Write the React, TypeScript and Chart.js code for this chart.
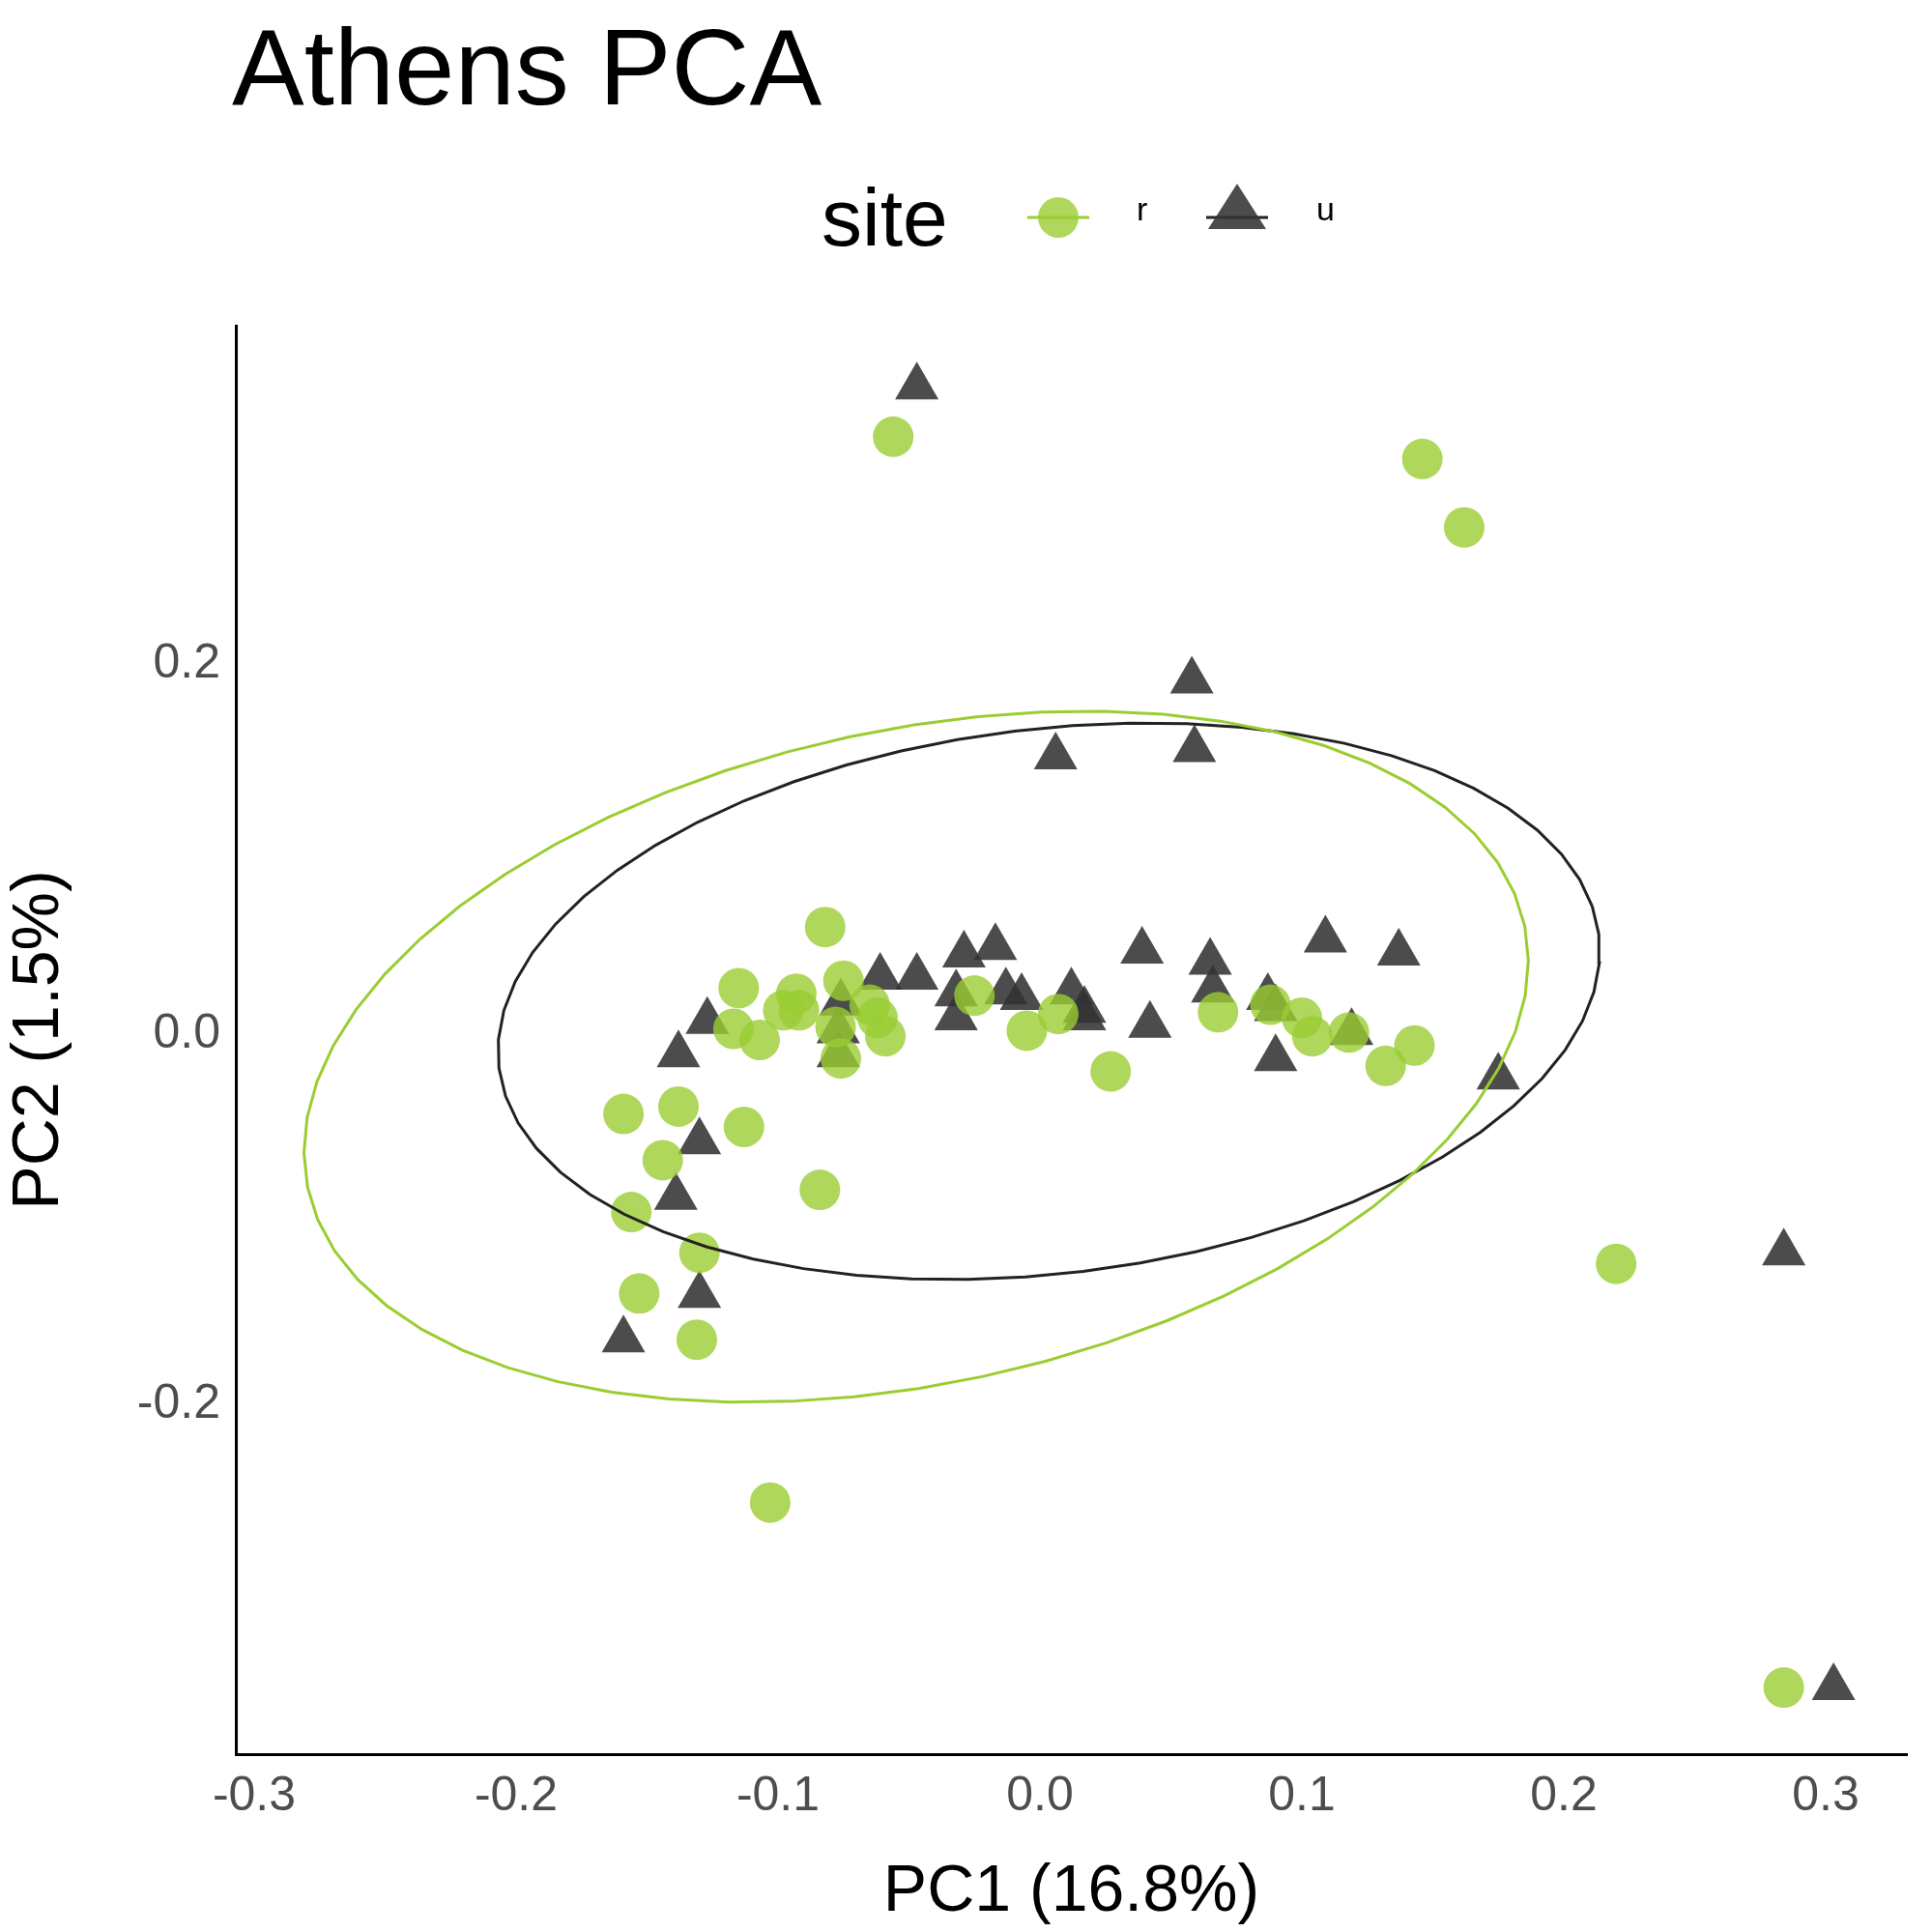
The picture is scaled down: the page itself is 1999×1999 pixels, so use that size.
import { useEffect, useRef } from "react";
import { Chart, registerables } from "chart.js";

Chart.register(...registerables);

// PC1, PC2 scores for rural (r) and urban (u) sites
const rX = [-0.056, 0.146, 0.162, -0.082, -0.115, -0.075, -0.093, -0.098, -0.092, -0.117, -0.107, -0.078, -0.065, -0.062, -0.059, -0.076, -0.025, -0.005, 0.007, 0.027, 0.068, 0.088, 0.1, 0.104, 0.118, 0.132, 0.143, -0.159, -0.138, -0.113, -0.144, -0.156, -0.084, -0.13, -0.153, -0.131, -0.103, 0.22, 0.284];
const rY = [0.323, 0.311, 0.274, 0.058, 0.025, 0.029, 0.022, 0.013, 0.013, 0.003, -0.003, 0.004, 0.016, 0.009, -0.001, -0.013, 0.021, 0.002, 0.011, -0.02, 0.012, 0.016, 0.009, -0.001, 0.001, -0.017, -0.006, -0.043, -0.039, -0.05, -0.068, -0.096, -0.084, -0.118, -0.14, -0.165, -0.253, -0.124, -0.353];
const uX = [-0.047, 0.058, 0.006, 0.059, -0.017, -0.029, -0.061, -0.047, -0.076, -0.032, -0.032, -0.013, -0.007, 0.012, 0.017, 0.017, 0.039, 0.042, 0.065, 0.066, 0.087, 0.09, 0.109, 0.137, 0.119, 0.09, 0.175, -0.127, -0.138, -0.13, -0.139, -0.13, -0.159, -0.077, -0.077, 0.284, 0.303];
const uY = [0.35, 0.191, 0.15, 0.154, 0.047, 0.043, 0.031, 0.031, 0.017, 0.022, 0.009, 0.023, 0.02, 0.023, 0.013, 0.009, 0.045, 0.005, 0.039, 0.024, 0.02, 0.014, 0.051, 0.044, 0.001, -0.013, -0.023, 0.007, -0.011, -0.058, -0.088, -0.141, -0.165, 0.002, -0.011, -0.118, -0.353];
const xTicks = [-0.3, -0.2, -0.1, 0.0, 0.1, 0.2, 0.3];
const yTicks = [-0.2, 0.0, 0.2];

// 95% ellipse from a t-weighted (cov.trob-like) covariance, as stat_ellipse does
function ellipse(xs: number[], ys: number[]) {
  const n = xs.length;
  const nu = 5;
  let w = xs.map(() => 1);
  let mx = 0, my = 0, sxx = 0, syy = 0, sxy = 0;
  for (let it = 0; it < 100; it++) {
    const sw = w.reduce((a, b) => a + b, 0);
    mx = xs.reduce((a, x, i) => a + w[i] * x, 0) / sw;
    my = ys.reduce((a, y, i) => a + w[i] * y, 0) / sw;
    sxx = 0; syy = 0; sxy = 0;
    for (let i = 0; i < n; i++) {
      const dx = xs[i] - mx, dy = ys[i] - my;
      sxx += w[i] * dx * dx; syy += w[i] * dy * dy; sxy += w[i] * dx * dy;
    }
    sxx /= n; syy /= n; sxy /= n;
    const det = sxx * syy - sxy * sxy;
    w = xs.map((x, i) => {
      const dx = x - mx, dy = ys[i] - my;
      const d2 = (syy * dx * dx - 2 * sxy * dx * dy + sxx * dy * dy) / det;
      return (nu + 2) / (nu + d2);
    });
  }
  const r = Math.sqrt(2 * 3.24);
  const a = sxx, c = syy, b = sxy;
  const tr = (a + c) / 2, dd = Math.sqrt(((a - c) / 2) ** 2 + b * b);
  const l1 = tr + dd, l2 = tr - dd;
  const th = Math.atan2(l1 - a, b);
  const pts = [];
  for (let k = 0; k <= 60; k++) {
    const t = (k / 60) * 2 * Math.PI;
    const u = r * Math.sqrt(l1) * Math.cos(t), v = r * Math.sqrt(l2) * Math.sin(t);
    pts.push({ x: mx + u * Math.cos(th) - v * Math.sin(th), y: my + u * Math.sin(th) + v * Math.cos(th) });
  }
  return pts;
}

const GREEN = "#9acd32";
const DARK = "#333333";

export default function App() {
  const canvasRef = useRef<HTMLCanvasElement | null>(null);

  useEffect(() => {
    document.body.style.margin = "0";
    if (!canvasRef.current) return;
    const font = { family: "Liberation Sans, Arial, sans-serif" };
    const chart = new Chart(canvasRef.current, {
      type: "scatter",
      data: {
        datasets: [
          { data: ellipse(rX, rY), showLine: true, borderColor: GREEN, borderWidth: 3, pointRadius: 0 },
          { data: ellipse(uX, uY), showLine: true, borderColor: "#222222", borderWidth: 3, pointRadius: 0 },
          { data: rX.map((x, i) => ({ x, y: rY[i] })), backgroundColor: "rgba(154,205,50,0.8)", borderWidth: 0, pointRadius: 21 },
          { data: uX.map((x, i) => ({ x, y: uY[i] })), backgroundColor: "rgba(51,51,51,0.88)", borderWidth: 0, pointStyle: "triangle", pointRadius: 26 },
        ],
      },
      options: {
        animation: false,
        responsive: false,
        layout: { padding: { top: 337, right: 16, left: 0, bottom: 0 } },
        plugins: { legend: { display: false }, tooltip: { enabled: false } },
        scales: {
          x: {
            type: "linear", min: -0.307, max: 0.331,
            afterBuildTicks: (s: any) => { s.ticks = xTicks.map((v) => ({ value: v })); },
            afterFit: (s: any) => { s.height = 184; },
            grid: { display: false, drawTicks: true, tickLength: 10, tickColor: "#000" } as any,
            border: { color: "#000", width: 3 },
            ticks: { color: "#4d4d4d", font: { ...font, size: 50 }, padding: 4, callback: (v: any) => Number(v).toFixed(1) },
            title: { display: true, text: "PC1 (16.8%)", color: "#000", font: { ...font, size: 68 }, padding: 0 },
          },
          y: {
            type: "linear", min: -0.389, max: 0.383,
            afterBuildTicks: (s: any) => { s.ticks = yTicks.map((v) => ({ value: v })); },
            afterFit: (s: any) => { s.width = 244; },
            grid: { display: false, drawTicks: true, tickLength: 10, tickColor: "#000" } as any,
            border: { color: "#000", width: 3 },
            ticks: { color: "#4d4d4d", font: { ...font, size: 50 }, padding: 6, callback: (v: any) => Number(v).toFixed(1) },
            title: { display: true, text: "PC2 (1.5%)", color: "#000", font: { ...font, size: 68 }, padding: 0 },
          },
        },
      },
    });
    return () => chart.destroy();
  }, []);

  const txt = { fontFamily: "Liberation Sans, Arial, sans-serif", position: "absolute" as const, color: "#000" };
  return (
    <div style={{ position: "relative", width: 1999, height: 1999, background: "#fff" }}>
      <canvas ref={canvasRef} width={1999} height={1999} style={{ position: "absolute", left: 0, top: 0 }} />
      <div style={{ ...txt, left: 240, top: 5, fontSize: 112, lineHeight: "130px" }}>Athens PCA</div>
      <div style={{ ...txt, left: 850, top: 180, fontSize: 84, lineHeight: "90px" }}>site</div>
      <svg style={{ position: "absolute", left: 1055, top: 190 }} width={80} height={70}>
        <line x1={8} y1={35} x2={72} y2={35} stroke={GREEN} strokeWidth={3} />
        <circle cx={40} cy={35} r={21} fill="rgba(154,205,50,0.8)" />
      </svg>
      <div style={{ ...txt, left: 1176, top: 197, fontSize: 34 }}>r</div>
      <svg style={{ position: "absolute", left: 1240, top: 180 }} width={80} height={80}>
        <line x1={8} y1={45} x2={72} y2={45} stroke="#222" strokeWidth={3} />
        <polygon points="40,10 70,57 10,57" fill="rgba(51,51,51,0.88)" />
      </svg>
      <div style={{ ...txt, left: 1362, top: 197, fontSize: 34 }}>u</div>
    </div>
  );
}
